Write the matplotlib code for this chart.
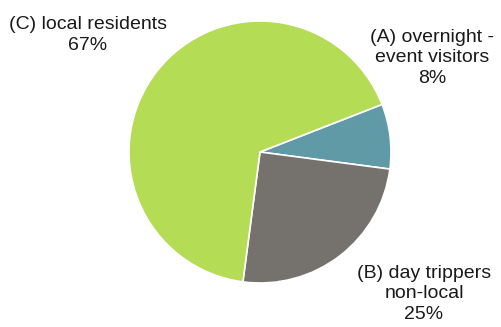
import matplotlib.pyplot as plt

labels = ['(A) overnight -\nevent visitors', '(B) day trippers\nnon-local', '(C) local residents']
shares = [8, 25, 67]
colors = ['#5F9AA6', '#75716C', '#B4DC55']

plt.rcParams['font.family'] = ['Liberation Sans', 'DejaVu Sans']

W, H = 501, 327
fig = plt.figure(figsize=(W / 100, H / 100), dpi=100)
cx, cy, r = 260, 152, 131
ax = fig.add_axes([(cx - r) / W, (H - cy - r) / H, 2 * r / W, 2 * r / H])
ax.pie(shares, colors=colors, startangle=21.3, counterclock=False, radius=1,
       wedgeprops=dict(edgecolor='white', linewidth=1.2))
ax.set_xlim(-1, 1)
ax.set_ylim(-1, 1)
ax.set_aspect('equal')
ax.axis('off')

# label centres in pixel coords
spots = [(432, 58), (424, 294), (88, 35)]
for lab, val, (x, y) in zip(labels, shares, spots):
    fig.text(x / W, 1 - y / H, f'{lab}\n{val}%', ha='center', va='center',
             fontsize=14, color='#1a1a1a', linespacing=1.25)

fig.savefig('out.png', dpi=100)
